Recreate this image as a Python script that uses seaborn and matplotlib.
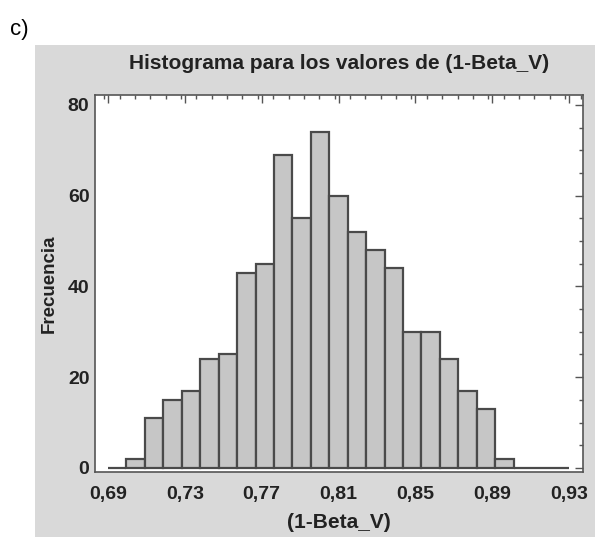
import numpy as np
import pandas as pd
import seaborn as sns
import matplotlib
matplotlib.use("Agg")
import matplotlib.pyplot as plt
from matplotlib.patches import Rectangle
from matplotlib.ticker import MultipleLocator, FixedLocator, FuncFormatter

# ---- data ----
bin_start = 0.69
bin_end = 0.93
n_bins = 25
counts = [0, 2, 11, 15, 17, 24, 25, 43, 45, 69, 55, 74, 60, 52, 48, 44,
          30, 30, 24, 17, 13, 2, 0, 0, 0]
x_ticks = [0.69, 0.73, 0.77, 0.81, 0.85, 0.89, 0.93]
y_ticks = [0, 20, 40, 60, 80]
title = "Histograma para los valores de (1-Beta_V)"
x_label = "(1-Beta_V)"
y_label = "Frecuencia"
panel_label = "c)"

edges = [float(e) for e in np.linspace(bin_start, bin_end, n_bins + 1)]
centers = [(a + b) / 2 for a, b in zip(edges[:-1], edges[1:])]
df = pd.DataFrame({"x": centers, "w": counts})

sns.set_theme(style="white")
plt.rcParams['font.family'] = ['Liberation Sans', 'DejaVu Sans']

fig = plt.figure(figsize=(5.95, 5.37), dpi=100)
fig.patch.set_facecolor("white")
# gray panel behind the plot
fig.patches.append(Rectangle((35 / 595, 0), 1 - 35 / 595, 1 - 45 / 537,
                             transform=fig.transFigure, facecolor="#d9d9d9",
                             edgecolor="none", zorder=-5))

ax = fig.add_axes([95 / 595, 1 - 472 / 537, (583 - 95) / 595, (472 - 95) / 537])
ax.set_zorder(2)
ax.set_facecolor("white")

sns.histplot(data=df, x="x", weights="w", bins=edges, ax=ax,
             color="#c6c6c6", edgecolor="#4a4a4a", linewidth=1.6, alpha=1)

ax.set_xlim(0.6832, 0.9373)
ax.set_ylim(-0.9, 82.2)
ax.xaxis.set_major_locator(FixedLocator(x_ticks))
ax.xaxis.set_minor_locator(MultipleLocator(0.008))
ax.yaxis.set_major_locator(FixedLocator(y_ticks))
ax.yaxis.set_minor_locator(MultipleLocator(5))
ax.xaxis.set_major_formatter(FuncFormatter(lambda v, p: f"{v:.2f}".replace(".", ",")))
ax.tick_params(which="both", direction="in", top=True, right=True,
               color="#555555", width=1.0)
ax.tick_params(which="major", length=6, labelsize=14, labelcolor="#222222")
ax.tick_params(axis="x", which="major", pad=10)
ax.tick_params(axis="y", which="major", pad=4)
ax.tick_params(which="minor", length=3)
for lab in ax.get_xticklabels() + ax.get_yticklabels():
    lab.set_fontweight("bold")
for s in ax.spines.values():
    s.set_color("#555555")
    s.set_linewidth(1.2)

ax.set_title(title, fontsize=15, fontweight="bold", color="#222222", pad=19)
ax.set_xlabel(x_label, fontsize=15, fontweight="bold", color="#222222", labelpad=7)
ax.set_ylabel(y_label, fontsize=13.5, fontweight="bold", color="#222222", labelpad=7)

fig.text(10 / 595, 1 - 35 / 537, panel_label, fontsize=16, color="black",
         ha="left", va="baseline")

fig.savefig("out.png", dpi=100)
